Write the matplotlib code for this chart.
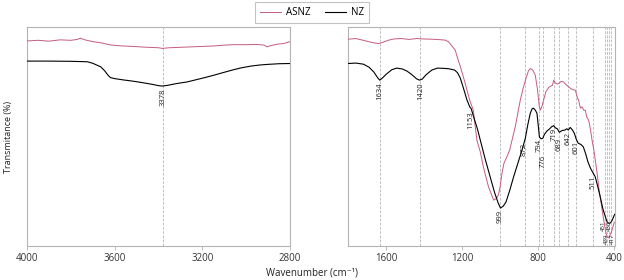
import numpy as np
import matplotlib
matplotlib.use("Agg")
import matplotlib.pyplot as plt

plt.rcParams['font.family'] = ['Open Sans', 'DejaVu Sans']

# ---------------- data ----------------
# left panel (4000-2800)
nz_left_wn = [4000, 3900, 3800, 3725, 3700, 3680, 3664, 3645, 3630, 3620, 3600, 3560,
              3514, 3470, 3430, 3400, 3383, 3360, 3320, 3269, 3220, 3180, 3146, 3100,
              3060, 3023, 2980, 2940, 2902, 2850, 2800]
nz_left_t = [84.5, 84.5, 84.4, 84.2, 83.5, 82.6, 81.9, 80.0, 78.0, 77.0, 76.5, 75.9,
             75.3, 74.6, 73.9, 73.3, 73.1, 73.4, 74.2, 75.0, 76.2, 77.2, 78.1, 79.4,
             80.5, 81.4, 82.2, 82.7, 83.0, 83.3, 83.4]
asnz_left_wn = [4000, 3950, 3900, 3850, 3800, 3770, 3757, 3740, 3700, 3660, 3620, 3580,
                3540, 3500, 3450, 3400, 3383, 3350, 3300, 3250, 3200, 3150, 3100, 3055,
                3000, 2950, 2918, 2905, 2890, 2860, 2830, 2800]
asnz_left_t = [93.7, 94.0, 93.6, 94.2, 94.0, 94.4, 95.0, 94.3, 93.4, 92.8, 91.9, 91.5,
               91.3, 91.1, 90.8, 90.6, 90.3, 90.6, 90.8, 91.0, 91.2, 91.4, 91.8, 92.0,
               92.0, 92.1, 91.8, 91.0, 91.5, 92.2, 92.5, 93.4]

# right panel (1800-400)
nz_right_wn = [1800, 1760, 1720, 1690, 1665, 1645, 1634, 1622, 1600, 1570, 1544, 1515,
               1490, 1465, 1440, 1425, 1410, 1390, 1360, 1330, 1300, 1270, 1240, 1225,
               1210, 1195, 1175, 1160, 1153, 1140, 1120, 1105, 1080, 1053, 1030, 1010,
               999, 985, 970, 950, 930, 905, 886, 868, 855, 842, 832, 825, 815, 807,
               800, 794, 785, 776, 768, 755, 740, 730, 719, 710, 700, 689, 675, 660,
               650, 642, 632, 620, 610, 601, 590, 575, 563, 550, 540, 525, 511, 500,
               488, 474, 460, 447, 438, 430, 422, 417, 410, 404, 398]
nz_right_t = [83.4, 83.6, 83.1, 81.7, 79.5, 76.9, 75.8, 76.6, 78.5, 80.6, 81.3, 80.9,
              79.9, 78.3, 76.4, 75.8, 76.3, 78.3, 80.4, 81.3, 81.2, 81.0, 80.4, 79.2,
              76.7, 72.5, 66.7, 63.5, 62.8, 59.0, 53.5, 48.4, 40.0, 31.6, 24.5, 19.5,
              17.4, 18.2, 20.1, 25.5, 31.6, 38.5, 43.8, 49.3, 55.5, 60.7, 62.8, 63.0,
              62.0, 60.7, 55.0, 49.8, 49.0, 49.3, 51.0, 52.5, 53.6, 54.5, 55.0, 54.0,
              53.6, 52.0, 52.8, 53.0, 53.6, 53.0, 54.2, 53.0, 51.5, 49.0, 47.0, 46.4,
              45.3, 42.0, 38.8, 35.5, 33.3, 31.6, 27.5, 22.5, 17.0, 13.4, 11.0, 10.5,
              10.5, 11.0, 12.0, 13.4, 14.5]
asnz_right_wn = [1800, 1760, 1720, 1690, 1660, 1640, 1620, 1590, 1560, 1520, 1480, 1440,
                 1400, 1360, 1320, 1290, 1272, 1255, 1237, 1225, 1210, 1190, 1175, 1160,
                 1142, 1123, 1105, 1088, 1075, 1062, 1048, 1035, 1020, 1009, 1000, 991,
                 980, 965, 950, 938, 920, 905, 895, 880, 865, 852, 842, 830, 816, 805,
                 795, 789, 780, 772, 760, 745, 735, 725, 719, 710, 700, 693, 680, 667,
                 655, 641, 630, 620, 605, 595, 588, 578, 570, 560, 553, 545, 535, 525,
                 517, 508, 500, 490, 480, 470, 460, 452, 445, 438, 432, 425, 415, 408, 400]
asnz_right_t = [94.5, 94.8, 94.0, 93.3, 92.8, 92.5, 93.0, 94.0, 94.6, 94.8, 94.4, 94.8,
                94.6, 94.5, 94.3, 94.1, 93.3, 91.5, 89.5, 86.0, 82.0, 76.0, 71.2, 66.5,
                62.1, 48.4, 43.0, 35.8, 31.5, 27.1, 24.0, 21.0, 21.8, 23.6, 27.5, 33.3,
                38.0, 40.8, 44.0, 48.4, 55.0, 62.0, 66.5, 72.0, 76.5, 80.0, 81.1, 80.5,
                78.1, 72.0, 64.0, 62.1, 64.0, 66.7, 70.5, 72.5, 73.0, 73.5, 75.8, 74.5,
                74.0, 74.3, 75.2, 75.0, 73.8, 72.8, 72.0, 71.5, 71.2, 68.0, 66.7, 63.0,
                63.6, 62.0, 62.1, 59.0, 57.5, 53.0, 48.4, 44.0, 39.3, 33.0, 25.6, 20.0,
                14.2, 10.0, 6.4, 4.2, 3.8, 4.6, 6.5, 8.5, 11.0]

left_peaks = [3378]
left_peak_labels = ["3378"]
right_peaks = [1634, 1420, 1153, 999, 872, 794, 776, 719, 689, 642, 601, 511]
right_peak_labels = ["1634", "1420", "1153", "999", "872", "794", "776", "719", "689",
                     "642", "601", "511"]
low_peaks = [451, 439, 430, 417]
low_peak_labels = ["451", "439", "430", "417"]
right_lines = [1634, 1420, 999, 872, 794, 776, 719, 689, 642, 601, 511, 451, 439, 430, 417]

left_ticks = [4000, 3600, 3200, 2800]
right_ticks = [1600, 1200, 800, 400]

# ---------------- styling ----------------
PINK = '#c65a82'
GRID = '#a8a8a8'
SPINE = '#b4b4b4'

fig = plt.figure(figsize=(6.24, 2.8), dpi=100)
axL = fig.add_axes([0.0433, 0.121, 0.4215, 0.782])
axR = fig.add_axes([0.558, 0.121, 0.428, 0.782])

for ax in (axL, axR):
    ax.set_ylim(0, 100)
    ax.set_yticks([])
    for s in ax.spines.values():
        s.set_color(SPINE)
        s.set_linewidth(0.8)
    ax.tick_params(axis='x', labelsize=7, colors='#333333', length=3, width=0.6,
                   color=SPINE, pad=2)

axL.set_xlim(4000, 2800)
axL.set_xticks(left_ticks)
axR.set_xlim(1800, 395)
axR.set_xticks(right_ticks)

for p in left_peaks:
    axL.axvline(p, color=GRID, lw=0.5, ls=(0, (4, 2)), zorder=1)
for p in right_lines:
    axR.axvline(p, color=GRID, lw=0.5, ls=(0, (4, 2)), zorder=1)

l1, = axL.plot(asnz_left_wn, asnz_left_t, color=PINK, lw=0.7, zorder=3)
l2, = axL.plot(nz_left_wn, nz_left_t, color='black', lw=0.8, zorder=3)
axR.plot(asnz_right_wn, asnz_right_t, color=PINK, lw=0.7, zorder=3)
axR.plot(nz_right_wn, nz_right_t, color='black', lw=0.8, zorder=3)

def label_peaks(ax, peaks, labels, xs, ys, drop=None):
    xs_a = np.array(xs)[::-1]
    ys_a = np.array(ys)[::-1]
    for p, lab in zip(peaks, labels):
        y = np.interp(p, xs_a, ys_a) - 1.0
        if drop and p in drop:
            y -= drop[p]
        ax.text(p, y, lab, rotation=90, ha='center', va='top', fontsize=5.5,
                color='#222222', zorder=4)

label_peaks(axL, left_peaks, left_peak_labels, nz_left_wn, nz_left_t)
label_peaks(axR, right_peaks, right_peak_labels, nz_right_wn, nz_right_t,
            drop={776: 6.5, 689: 1.5})

# crowded labels near 400 cm-1: staggered so they stay legible
low_x = [458, 441, 425, 409]
low_y = [11.5, 5.8, 11.5, 5.8]
for x, y, lab in zip(low_x, low_y, low_peak_labels):
    axR.text(x, y, lab, rotation=90, ha='center', va='top', fontsize=4.3,
             color='#222222', zorder=4)

fig.text(0.013, 0.51, 'Transmitance (%)', rotation=90, ha='center', va='center',
         fontsize=6.5, color='#222222')
fig.text(0.5, 0.025, 'Wavenumber (cm\u207b\u00b9)', ha='center', va='center',
         fontsize=7, color='#222222')

leg = fig.legend([l1, l2], ['ASNZ', 'NZ'], loc='center', bbox_to_anchor=(0.5, 0.955),
                 ncol=2, fontsize=7, frameon=True, fancybox=False, handlelength=2.2,
                 columnspacing=1.5, borderpad=0.5, handletextpad=0.5)
leg.get_frame().set_edgecolor(SPINE)
leg.get_frame().set_linewidth(0.8)

fig.savefig('out.png', dpi=100)
